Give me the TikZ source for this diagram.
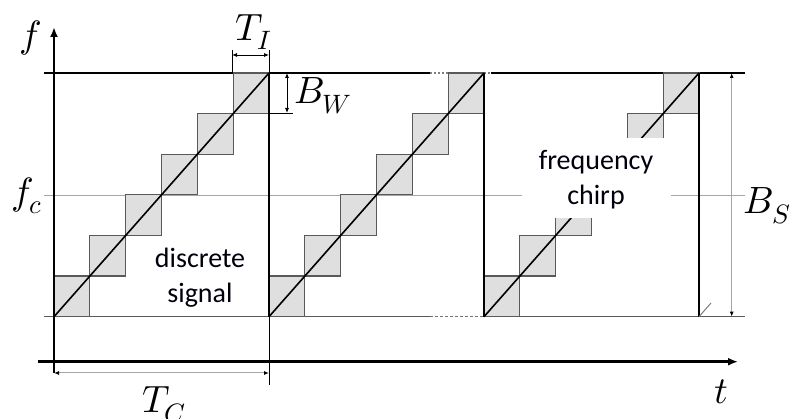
\documentclass[tikz,border=0pt]{standalone}
\usepackage{fontspec}
\usepackage{unicode-math}
\newfontfamily\calibri{Carlito}
\usetikzlibrary{arrows.meta}
\begin{document}
\begin{tikzpicture}[x=1pt,y=-1pt,
  stepbox/.style={fill=gray!25,draw=black!65,line width=1.2pt},
  chirp/.style={line width=1.6pt,black},
  resetline/.style={line width=2.4pt,black},
  axis/.style={line width=2.8pt,-{Latex[length=10pt,width=8pt]}},
  thinline/.style={line width=0.9pt,black},
  dimarrow/.style={line width=0.8pt,{Latex[length=5pt,width=4pt]}-{Latex[length=5pt,width=4pt]}},
  greydim/.style={line width=1pt,black!35,{Latex[length=5pt,width=4pt,black]}-{Latex[length=5pt,width=4pt,black]}},
  lbl/.style={inner sep=0pt,font=\fontsize{38}{40}\selectfont},
  txt/.style={inner sep=0pt,font=\calibri\fontsize{28}{35}\selectfont,align=center,text=black!95!blue}]
\useasboundingbox (0,0) rectangle (790,419);
% centre-frequency line
\draw[line width=0.8pt,black!35] (44,195) -- (745,195);
% top and bottom band limits
\draw[line width=1.2pt] (44,73) -- (430,73);
\draw[line width=1.2pt,black!50,dash pattern=on 2pt off 2pt] (430,73) -- (448,73);
\draw[line width=1.2pt,black!50,dash pattern=on 2pt off 2pt] (484,73) -- (491,73);
\draw[line width=1.2pt] (491,73) -- (745,73);
\draw[line width=1.4pt,black!65] (44,316.7) -- (430,316.7);
\draw[line width=1.4pt,black!55,dash pattern=on 3pt off 2pt] (430,316.7) -- (484,316.7);
\draw[line width=1.4pt,black!65] (484,316.7) -- (745,316.7);
% steps and diagonals
\foreach \p in {0,1,2}{
  \foreach \i in {0,...,5}{
    \draw[stepbox] ({54+215*\p+35.83*\i},{316.7-40.6*\i}) rectangle ++(35.83,-40.6);
  }
  \draw[chirp] ({54+215*\p},316.7) -- ({269+215*\p},73);
}
% hidden part behind the label
\fill[white] (522,138) rectangle (671,218);
% reset lines
\draw[thinline] (269,50) -- (269,385);
\draw[thinline] (232,50) -- (232,73);
\foreach \x in {269,484,699}{\draw[resetline] (\x,73) -- (\x,316.7);}
\draw[line width=0.9pt,black!55] (699,316.7) -- (711,303);
% axes
\draw[axis] (54,373) -- (54,27);
\draw[axis] (38,361.7) -- (738,361.7);
% dimension arrows
\draw[dimarrow] (232,55) -- (269,55);
\draw[thinline] (269,113) -- (293,113);
\draw[dimarrow] (287,73) -- (287,113);
\draw[greydim] (54,373) -- (269,373);
\draw[greydim] (731.7,73) -- (731.7,316.7);
% labels
\node[lbl] (f) at (31,38) {$f$};
\node[lbl] (ti) at (254,32) {$T_I$};
\node[lbl] (bw) at (323,96) {$B_W$};
\node[lbl] (fc) at (27,196) {$f_c$};
\node[lbl] (bs) at (767,206) {$B_S$};
\node[lbl] (t) at (721,392) {$t$};
\node[lbl] (tc) at (164,405) {$T_C$};
\node[txt] (ds) at (200,278) {discrete\\signal};
\node[txt] (fch) at (596,180) {frequency\\chirp};
\end{tikzpicture}
\end{document}
